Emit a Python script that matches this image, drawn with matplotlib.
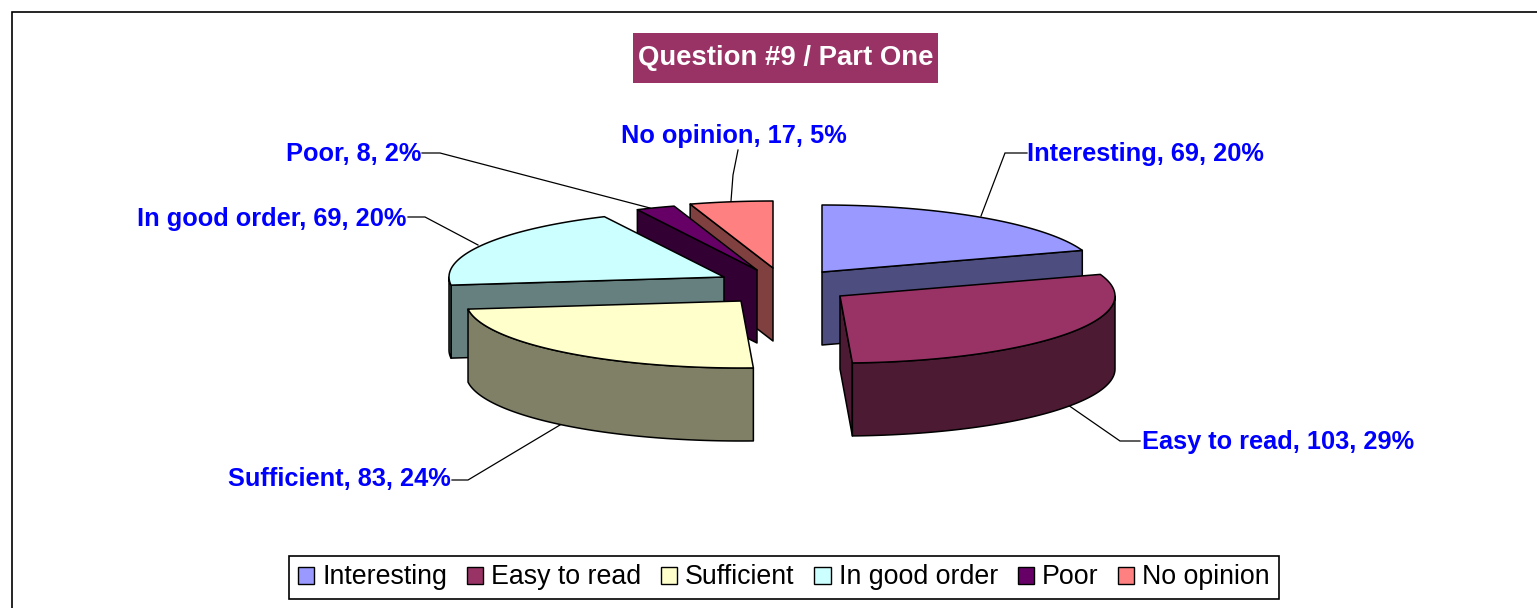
import numpy as np
import matplotlib
matplotlib.use("Agg")
import matplotlib.pyplot as plt
from matplotlib.patches import Polygon, Patch, Rectangle

# ---- data ----
categories = ["Interesting", "Easy to read", "Sufficient", "In good order", "Poor", "No opinion"]
values = [69, 103, 83, 69, 8, 17]
percent_labels = [20, 29, 24, 20, 2, 5]
title_text = "Question #9 / Part One"

# ---- style and layout (figure pixels) ----
top_colors = ["#9999FF", "#993366", "#FFFFCC", "#CCFFFF", "#660066", "#FF8080"]
wall_colors = ["#4D4D80", "#4D1A33", "#808066", "#668080", "#330033", "#804040"]
W, H = 1537, 608
CX, CY = 782, 286
RX, RY, DEPTH = 275, 67, 73
explode_px = [(40, -14), (58, 10), (-41, 15), (-58, -9), (-25, -16), (-9, -18)]
label_pos = [(1027, 154, "left"), (1142, 442, "left"), (451, 479, "right"),
             (406, 219, "right"), (421, 154, "right"), (734, 136, "center")]
leaders = [[(1027, 153), (1005, 153), (981, 216)],
           [(1140, 441), (1120, 441), (1068, 405)],
           [(452, 480), (468, 480), (565, 422)],
           [(408, 217), (425, 217), (478, 245)],
           [(422, 153), (440, 153), (650, 208)],
           [(738, 150), (733, 175), (731, 201)]]

plt.rcParams["font.family"] = ["Liberation Sans", "DejaVu Sans"]
fig = plt.figure(figsize=(W / 100, H / 100), dpi=100, facecolor="white")
ax = fig.add_axes([0, 0, 1, 1])
ax.set_xlim(0, W)
ax.set_ylim(H, 0)
ax.axis("off")

# outer chart frame, running off the right and bottom of the picture
ax.add_patch(Rectangle((12, 12), W + 40, H + 40, fc="white", ec="black", lw=1.2, zorder=0))

LW = 1.1
for path in leaders:
    xs, ys = zip(*path)
    ax.plot(xs, ys, color="black", lw=0.9, zorder=1, solid_joinstyle="miter")

total = sum(values)
edges = np.concatenate([[0], np.cumsum(values)]) / total * 360.0


def rim(ox, oy, a, dy=0.0):
    a = np.radians(a)
    return np.column_stack([ox + RX * np.sin(a), oy - RY * np.cos(a) + dy])


def draw_slice(i, z):
    a0, a1 = edges[i], edges[i + 1]
    ox, oy = CX + explode_px[i][0], CY + explode_px[i][1]
    apex = np.array([[ox, oy]])
    drop = np.array([[0, DEPTH]])
    kw = dict(closed=True, ec="black", lw=LW, joinstyle="round", zorder=z)

    # radial faces turned towards the viewer
    for a, visible in ((a0, np.sin(np.radians(a0)) < -1e-6), (a1, np.sin(np.radians(a1)) > 1e-6)):
        if visible:
            p = rim(ox, oy, np.array([a]))
            ax.add_patch(Polygon(np.vstack([apex, p, p + drop, apex + drop]),
                                 fc=wall_colors[i], **kw))
    # outer wall on the front half of the ellipse
    lo, hi = max(a0, 90), min(a1, 270)
    if hi > lo:
        arc = rim(ox, oy, np.linspace(lo, hi, 80))
        ax.add_patch(Polygon(np.vstack([arc, (arc + drop)[::-1]]), fc=wall_colors[i], **kw))
    # top surface
    top = rim(ox, oy, np.linspace(a0, a1, 100))
    ax.add_patch(Polygon(np.vstack([apex, top]), fc=top_colors[i], **kw))


order = sorted(range(len(values)), key=lambda k: explode_px[k][1])
for z, k in enumerate(order):
    draw_slice(k, 2 + z * 0.1)

# data labels
for c, v, p, (x, y, ha) in zip(categories, values, percent_labels, label_pos):
    ax.text(x, y, f"{c}, {v}, {p}%", color="#0000FF", fontsize=18.3, fontweight="bold",
            ha=ha, va="center", zorder=5)

# title
ax.add_patch(Rectangle((633, 33), 305, 50, fc="#993366", ec="none", zorder=5))
ax.text(785.5, 58, title_text, color="white", fontsize=19.8, fontweight="bold",
        ha="center", va="center", zorder=6)

# legend
handles = [Patch(fc=c, ec="black", lw=1.0) for c in top_colors]
leg = ax.legend(handles, categories, ncol=6, loc="center",
                bbox_to_anchor=(784, 577.5), bbox_transform=ax.transData,
                fontsize=19.3, frameon=True, fancybox=False, framealpha=1,
                edgecolor="black", borderpad=0.32, handlelength=0.6, handleheight=0.6,
                handletextpad=0.3, columnspacing=0.74, labelspacing=0)
leg.get_frame().set_linewidth(1.2)
leg.set_zorder(6)

fig.savefig("out.png", dpi=100)
